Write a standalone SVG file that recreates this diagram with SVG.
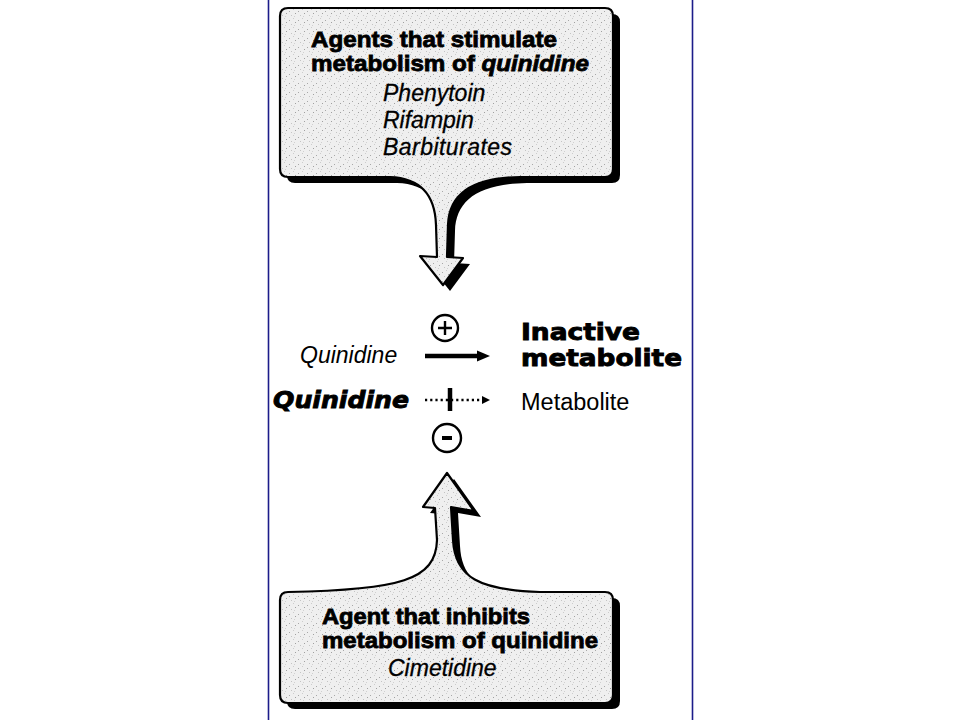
<svg xmlns="http://www.w3.org/2000/svg" width="960" height="720" viewBox="0 0 960 720">
  <style>
    .frame { stroke: #1c1c8a; stroke-width: 1.6; fill: none; }
    .callout { fill: url(#speckle); stroke: #000; stroke-width: 2.2; stroke-linejoin: round; }
    .shadow { fill: #000; }
    .hd { font-family: "Liberation Sans", Arial, sans-serif; font-weight: bold; font-size: 22px; fill: #000; stroke: #000; stroke-width: 0.8; }
    .it { font-family: "Liberation Sans", Arial, sans-serif; font-style: italic; font-size: 23px; fill: #000; stroke: #000; stroke-width: 0.3; }
    .lt { font-family: "Liberation Sans", Arial, sans-serif; font-size: 23.5px; fill: #000; }
    .lti { font-family: "Liberation Sans", Arial, sans-serif; font-style: italic; font-size: 23px; fill: #000; }
    .blk { font-family: "DejaVu Sans", "Liberation Sans", sans-serif; font-weight: bold; font-size: 23px; fill: #000; stroke: #000; stroke-width: 0.9; }
    .sign { fill: #fff; stroke: #000; stroke-width: 2.4; }
  </style>
  <defs>
    <pattern id="speckle" width="9" height="9" patternUnits="userSpaceOnUse">
      <rect width="9" height="9" fill="#efefef"/>
      <rect x="1" y="2" width="1" height="1" fill="#a8a8a8"/>
      <rect x="5" y="0" width="1" height="1" fill="#cccccc"/>
      <rect x="7" y="4" width="1" height="1" fill="#a0a0a0"/>
      <rect x="3" y="6" width="1" height="1" fill="#c4c4c4"/>
      <rect x="6" y="7" width="1" height="1" fill="#d0d0d0"/>
    </pattern>
  </defs>

  <rect width="960" height="720" fill="#fff"/>
  <line class="frame" x1="268.5" y1="0" x2="268.5" y2="720"/>
  <line class="frame" x1="692.5" y1="0" x2="692.5" y2="720"/>

  <g id="stimulators">
    <path class="shadow" transform="translate(7,6)" d="M288,8 H605 Q613,8 613,16 V169 Q613,177 605,177 H520 C470,178 449,195 448,225 L447,257 L463,258 L443,285 L420,256 L437,257 L436,225 C435,195 420,178 390,177 H288 Q280,177 280,169 V16 Q280,8 288,8 Z"/>
    <path class="callout" d="M288,8 H605 Q613,8 613,16 V169 Q613,177 605,177 H520 C470,178 449,195 448,225 L447,257 L463,258 L443,285 L420,256 L437,257 L436,225 C435,195 420,178 390,177 H288 Q280,177 280,169 V16 Q280,8 288,8 Z"/>
    <text class="hd" x="311" y="47" textLength="246" lengthAdjust="spacingAndGlyphs">Agents that stimulate</text>
    <text class="hd" x="311" y="71" textLength="278" lengthAdjust="spacingAndGlyphs">metabolism of <tspan font-style="italic">quinidine</tspan></text>
    <text class="it" x="383" y="101">Phenytoin</text>
    <text class="it" x="383" y="128">Rifampin</text>
    <text class="it" x="383" y="155" textLength="129">Barbiturates</text>
  </g>

  <g id="inhibitor">
    <path class="shadow" transform="translate(7,6)" d="M288,592 C400,590 436,580 437,540 L435,508 L423,507 L447,473 L474,511 L451,507 L453,540 C455,578 480,590 540,592 H605 Q613,592 613,600 V695 Q613,703 605,703 H288 Q280,703 280,695 V600 Q280,592 288,592 Z"/>
    <path class="callout" d="M288,592 C400,590 436,580 437,540 L435,508 L423,507 L447,473 L474,511 L451,507 L453,540 C455,578 480,590 540,592 H605 Q613,592 613,600 V695 Q613,703 605,703 H288 Q280,703 280,695 V600 Q280,592 288,592 Z"/>
    <text class="hd" x="322" y="624" textLength="208" lengthAdjust="spacingAndGlyphs">Agent that inhibits</text>
    <text class="hd" x="322" y="648" textLength="276" lengthAdjust="spacingAndGlyphs">metabolism of quinidine</text>
    <text class="it" x="388" y="676" font-size="22.5">Cimetidine</text>
  </g>

  <g id="plus">
    <circle class="sign" cx="445" cy="328" r="13"/>
    <path d="M445,321 V335 M438,328 H452" stroke="#000" stroke-width="2.4"/>
  </g>
  <g id="minus">
    <circle class="sign" cx="447" cy="438" r="14"/>
    <path d="M442,438 H452" stroke="#000" stroke-width="4"/>
  </g>

  <g id="quinidine-1"><text class="lti" x="300" y="363">Quinidine</text></g>
  <g id="inactive-metabolite">
    <text class="blk" x="521" y="340" textLength="119" lengthAdjust="spacingAndGlyphs">Inactive</text>
    <text class="blk" x="521" y="366" textLength="161" lengthAdjust="spacingAndGlyphs">metabolite</text>
  </g>
  <g id="quinidine-2"><text class="blk" x="273" y="408" font-style="italic" font-size="25" textLength="136" lengthAdjust="spacingAndGlyphs">Quinidine</text></g>
  <g id="metabolite"><text class="lt" x="521" y="410">Metabolite</text></g>

  <g id="connectors">
    <line x1="425" y1="356" x2="479" y2="356" stroke="#000" stroke-width="4.5"/>
    <polygon points="477,350.5 490,356 477,361.5" fill="#000"/>
    <line x1="425" y1="400" x2="482" y2="400" stroke="#000" stroke-width="2.6" stroke-dasharray="2.2,3"/>
    <polygon points="482,396 490,400 482,404" fill="#000"/>
    <line x1="450" y1="388" x2="450" y2="411" stroke="#000" stroke-width="4.5"/>
  </g>
</svg>
